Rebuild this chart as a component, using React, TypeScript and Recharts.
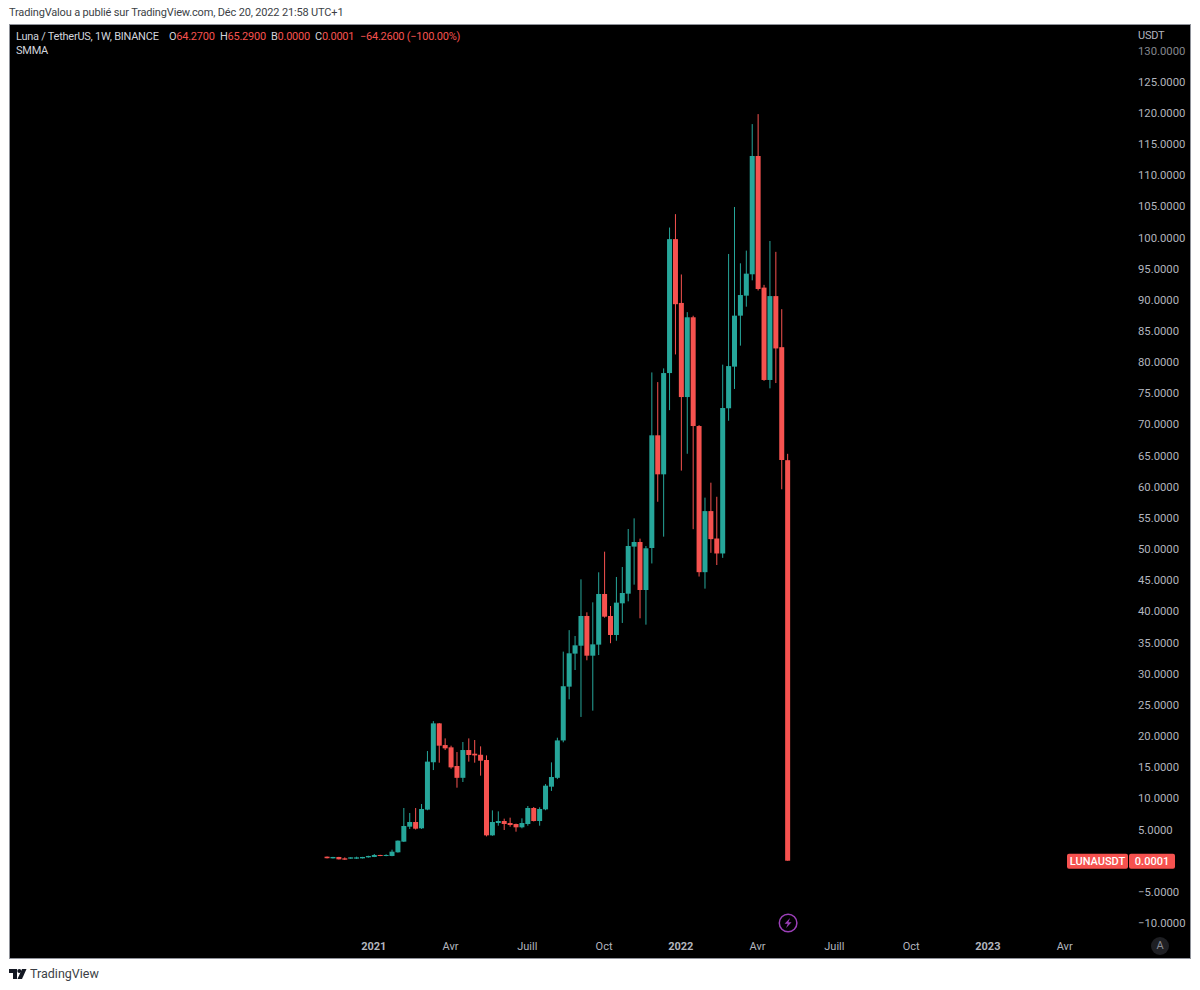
import { Bar, ComposedChart, ReferenceDot, XAxis, YAxis } from 'recharts';

const UP = '#26a69a';
const DOWN = '#f6524f';
const FONT = 'Roboto, sans-serif';

const opens = [
  0.65, 0.38, 0.6, 0.38, 0.33, 0.33, 0.38, 0.54, 0.6, 0.92, 0.76, 0.76, 1.35, 3.06, 5.46, 6.21, 5.2, 8.2, 15.8, 22.04,
  18.56, 18.19, 15.2, 13.3, 17.76, 17.17, 17.0, 16.16, 4.07, 6.05, 6.37, 6.05, 5.89, 5.36, 5.89, 8.46, 6.37, 8.24, 11.88, 13.3,
  19.3, 27.93, 33.23, 34.5, 39.27, 32.9, 34.67, 42.8, 39.27, 36.22, 41.3, 42.85, 50.4, 51.14, 43.44, 50.18, 68.26, 62.0, 78.25, 99.74,
  89.5, 74.4, 87.2, 69.75, 46.3, 56.1, 51.7, 49.3, 72.6, 79.28, 87.46, 90.67, 94.1, 113.08, 91.96, 77.14, 90.6, 82.4, 64.27,
];
const highs = [
  0.68, 0.62, 0.62, 0.54, 0.56, 0.65, 0.62, 0.8, 1.08, 0.95, 1.03, 1.77, 3.25, 8.46, 7.66, 8.46, 9.1, 17.6, 22.4, 22.1,
  19.63, 18.46, 17.44, 19.05, 19.63, 19.37, 18.35, 16.9, 8.08, 7.92, 6.75, 6.91, 5.95, 6.8, 8.78, 8.62, 8.57, 12.3, 15.78, 19.74,
  33.55, 37.0, 36.06, 45.15, 39.86, 41.46, 46.28, 49.59, 40.87, 45.53, 47.13, 53.23, 54.94, 51.68, 50.5, 78.35, 76.8, 79.0, 101.6, 103.75,
  94.07, 88.03, 87.45, 69.9, 58.26, 60.66, 58.4, 79.6, 97.36, 104.9, 95.86, 97.9, 118.2, 119.8, 92.4, 99.44, 97.7, 88.5, 65.29,
];
const lows = [
  0.37, 0.36, 0.2, 0.15, 0.3, 0.28, 0.36, 0.5, 0.58, 0.74, 0.72, 0.72, 1.3, 3.0, 5.09, 5.0, 5.1, 8.1, 14.55, 15.73,
  17.76, 14.77, 11.72, 12.63, 15.9, 15.73, 13.65, 3.9, 4.0, 5.62, 4.93, 5.46, 4.66, 5.2, 5.62, 6.3, 5.62, 8.1, 11.2, 13.1,
  19.0, 25.9, 30.6, 23.07, 32.16, 24.08, 33.0, 39.0, 34.9, 35.3, 38.15, 41.62, 44.3, 38.9, 37.88, 47.7, 57.6, 52.0, 72.3, 81.24,
  62.6, 65.3, 53.2, 45.6, 43.66, 49.4, 47.45, 48.6, 70.6, 75.7, 82.65, 88.9, 93.13, 91.5, 77.0, 75.8, 76.65, 59.6, 0,
];
const closes = [
  0.4, 0.6, 0.22, 0.17, 0.54, 0.54, 0.6, 0.76, 0.92, 0.76, 0.92, 1.45, 3.22, 5.57, 6.21, 5.14, 8.3, 15.9, 22.04, 18.46,
  18.03, 14.98, 13.3, 17.76, 16.96, 16.9, 16.05, 4.07, 6.21, 6.37, 5.89, 5.73, 5.36, 6.05, 8.46, 6.37, 8.3, 12.04, 13.43, 19.3,
  28.0, 33.28, 34.56, 39.27, 32.9, 34.72, 42.8, 39.16, 36.22, 41.41, 42.96, 50.5, 51.14, 43.44, 50.13, 68.26, 62.0, 78.25, 99.74, 89.3,
  74.4, 87.2, 69.75, 46.3, 56.1, 51.6, 49.3, 72.64, 79.37, 87.46, 90.77, 94.2, 113.08, 91.74, 77.14, 90.6, 82.2, 64.3, 0.0001,
];

const candles = opens.map((open, i) => ({
  week: i,
  open,
  high: highs[i],
  low: lows[i],
  close: closes[i],
}));

const priceTicks = [
  -10, -5, 5, 10, 15, 20, 25, 30, 35, 40, 45, 50, 55, 60, 65, 70, 75, 80, 85, 90, 95, 100, 105, 110, 115, 120, 125, 130,
];
const timeTicks = [8, 21, 34, 47, 60, 73, 86, 99, 112, 125];
const timeLabels = ['2021', 'Avr', 'Juill', 'Oct', '2022', 'Avr', 'Juill', 'Oct', '2023', 'Avr'];

function Candle(props: any) {
  const { x, y, width, height, payload } = props;
  const up = payload.close >= payload.open;
  const color = up ? UP : DOWN;
  const perUnit = height / (payload.high - payload.low);
  const bodyTop = y + (payload.high - Math.max(payload.open, payload.close)) * perUnit;
  const bodyH = Math.abs(payload.open - payload.close) * perUnit;
  return (
    <g>
      <rect x={x + width / 2 - 0.5} y={y} width={1} height={height} fill={color} />
      <rect x={x} y={bodyTop} width={width} height={Math.max(bodyH, 1)} fill={color} />
    </g>
  );
}

function PriceTick(props: any) {
  const { x, y, payload } = props;
  const v = payload.value;
  const text = (v < 0 ? '\u2212' : '') + Math.abs(v).toFixed(4);
  return (
    <text x={x + 7} y={y + 4} fontSize={11.3} fontFamily={FONT} fill={v === 130 ? '#85888f' : '#b2b5be'}>
      {text}
    </text>
  );
}

function TimeTick(props: any) {
  const { x, y, payload } = props;
  const label = timeLabels[timeTicks.indexOf(payload.value)];
  const isYear = label.startsWith('20');
  return (
    <text x={x - 1} y={y + 15} textAnchor="middle" fontSize={11} fontWeight={isYear ? 700 : 400} fontFamily={FONT} fill="#b2b5be">
      {label}
    </text>
  );
}

function LastPriceTag(props: any) {
  const cy = props.cy;
  return (
    <g fontFamily={FONT} fontSize={11} fontWeight={500} fill="#fff" textAnchor="middle">
      <rect x={1058} y={cy - 7} width={61} height={15} rx={2} fill={DOWN} />
      <rect x={1120} y={cy - 7} width={46} height={15} rx={2} fill={DOWN} />
      <text x={1088.5} y={cy + 4.5}>LUNAUSDT</text>
      <text x={1143} y={cy + 4.5}>0.0001</text>
    </g>
  );
}

function BoltIcon(props: any) {
  const { cx, cy } = props;
  return (
    <g>
      <circle cx={cx} cy={cy} r={8.8} fill="none" stroke="#9c3fb8" strokeWidth={1.5} />
      <path
        d={`M${cx + 2} ${cy - 5} L${cx - 3.5} ${cy + 0.8} L${cx - 0.3} ${cy + 0.8} L${cx - 2} ${cy + 5} L${cx + 3.5} ${cy - 0.8} L${cx + 0.3} ${cy - 0.8} Z`}
        fill="#9c3fb8"
      />
    </g>
  );
}

const legendText = { position: 'absolute', top: 30, fontSize: 11, letterSpacing: -0.25, lineHeight: '14px', color: '#d1d4dc', whiteSpace: 'nowrap' } as const;

export default function App() {
  return (
    <div style={{ position: 'absolute', left: 0, top: 0, width: 1200, height: 990, background: '#fff', overflow: 'hidden', fontFamily: FONT }}>
      <div style={{ position: 'absolute', left: 9, top: 6, fontSize: 11, letterSpacing: -0.16, lineHeight: '14px', color: '#3c3f46', whiteSpace: 'nowrap' }}>
        TradingValou a publié sur TradingView.com, Déc 20, 2022 21:58 UTC+1
      </div>

      <div style={{ position: 'absolute', left: 9, top: 24, width: 1182, height: 935, background: '#000', boxSizing: 'border-box', border: '1px solid #8f929a' }} />

      <div style={{ position: 'absolute', left: 9, top: 24 }}>
        <ComposedChart
          width={1182}
          height={935}
          data={candles}
          margin={{ top: 1, right: 0, bottom: 0, left: 1 }}
        >
          <XAxis
            dataKey="week"
            type="number"
            domain={[-53.77, 136.07]}
            allowDataOverflow
            ticks={timeTicks}
            interval={0}
            height={24}
            axisLine={false}
            tickLine={false}
            tickMargin={0}
            tickSize={0}
            tick={TimeTick}
          />
          <YAxis
            orientation="right"
            type="number"
            domain={[-11.92, 134.1]}
            allowDataOverflow
            ticks={priceTicks}
            interval={0}
            width={60}
            axisLine={false}
            tickLine={false}
            tickSize={0}
            tickMargin={0}
            tick={PriceTick}
          />
          <Bar
            dataKey={(d: any) => [d.low, d.high]}
            barSize={5}
            shape={Candle}
            isAnimationActive={false}
          />
          <ReferenceDot x={78} y={closes[78]} ifOverflow="visible" shape={LastPriceTag} />
          <ReferenceDot x={78} y={-10} ifOverflow="visible" shape={BoltIcon} />
        </ComposedChart>
      </div>

      <div style={{ ...legendText, left: 16 }}>Luna / TetherUS, 1W, BINANCE</div>
      <div style={{ ...legendText, left: 169 }}>O<span style={{ color: DOWN }}>64.2700</span></div>
      <div style={{ ...legendText, left: 220 }}>H<span style={{ color: DOWN }}>65.2900</span></div>
      <div style={{ ...legendText, left: 271 }}>B<span style={{ color: DOWN }}>0.0000</span></div>
      <div style={{ ...legendText, left: 315 }}>C<span style={{ color: DOWN }}>0.0001</span></div>
      <div style={{ ...legendText, left: 360, color: DOWN }}>{'\u221264.2600 (\u2212100.00%)'}</div>
      <div style={{ ...legendText, left: 16, top: 44 }}>SMMA</div>
      <div style={{ ...legendText, left: 1138, top: 29, color: '#b2b5be' }}>USDT</div>

      <div style={{ position: 'absolute', left: 1151, top: 937, width: 18, height: 18, borderRadius: 9, background: '#1e1f23', color: '#8a8d96', fontSize: 11, lineHeight: '18px', textAlign: 'center' }}>A</div>

      <svg style={{ position: 'absolute', left: 9, top: 968 }} width={18} height={12}>
        <path d="M0 1 H8 V11 H4 V5 H0 Z" fill="#131722" />
        <circle cx={10.3} cy={3} r={2} fill="#131722" />
        <path d="M13 1 H17.5 L13 11 H8.5 Z" fill="#131722" />
      </svg>
      <div style={{ position: 'absolute', left: 30, top: 965, fontSize: 12.5, lineHeight: '18px', color: '#3c3f46' }}>TradingView</div>
    </div>
  );
}
